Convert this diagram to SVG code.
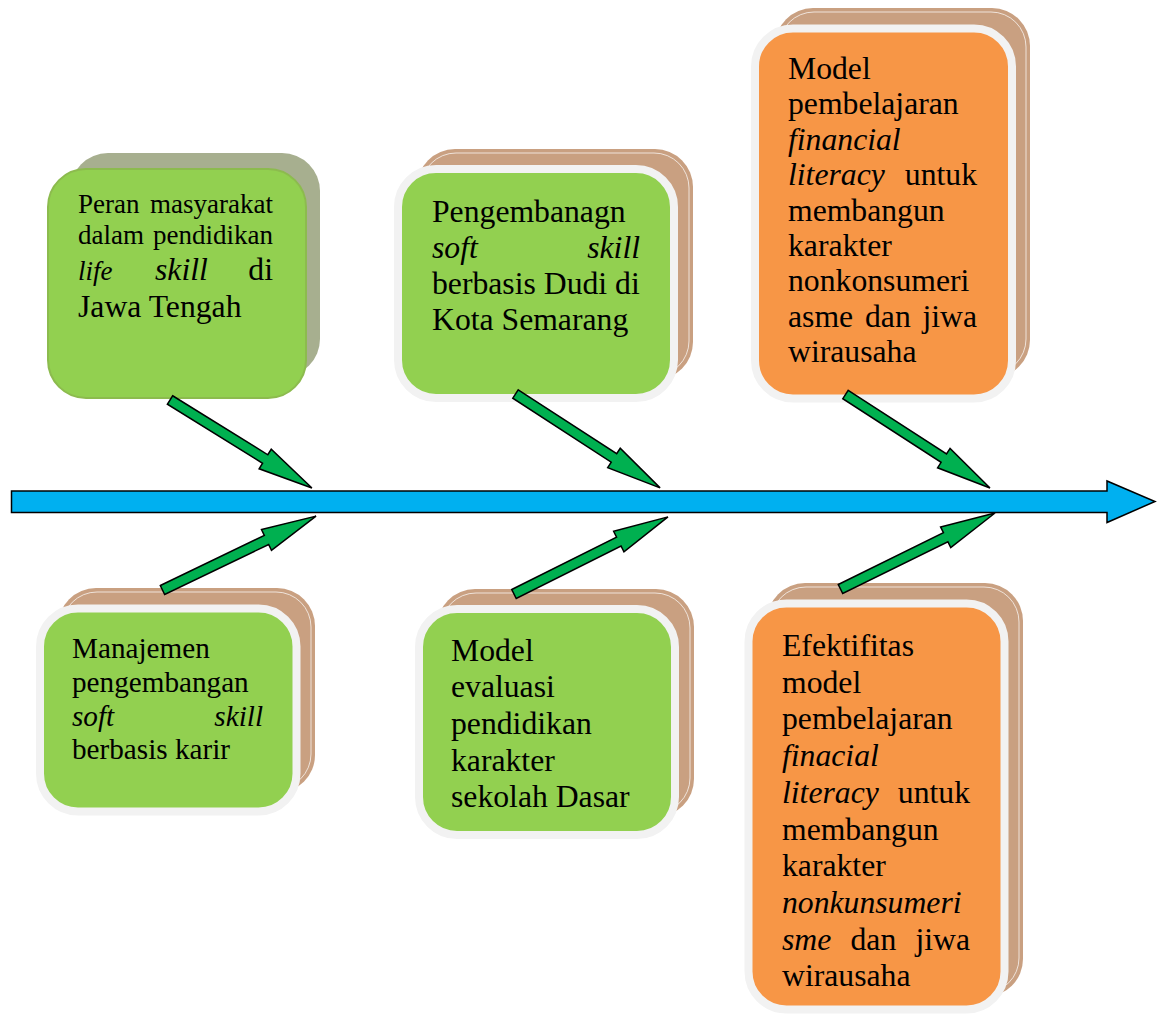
<svg xmlns="http://www.w3.org/2000/svg" width="1157" height="1014" viewBox="0 0 1157 1014">
<style>
.t{font-family:"Liberation Serif","Times New Roman",serif;fill:#000;font-size:31.7px}
.s27{font-size:27px}
.s29{font-size:29.2px}
.i{font-style:italic}
.e{text-anchor:end}
.tan{fill:#C9A081}
.tanline{fill:none;stroke:#FFFFFF;stroke-width:1;opacity:0.7}
.grn{fill:#92D050;stroke:#F2F2F2;stroke-width:8}
.org{fill:#F79646;stroke:#F2F2F2;stroke-width:8}
.arr{fill:#00B050;stroke:#000;stroke-width:1.5;stroke-linejoin:miter}
.spine{fill:#00B0F0;stroke:#000;stroke-width:1.5}
</style>
<rect width="1157" height="1014" fill="#FFFFFF"/>

<g id="node1">
<rect x="70" y="153" width="250" height="224" rx="38" fill="#A7AF8F"/>
<rect x="48" y="169" width="258" height="229" rx="38" fill="#92D050" stroke="#8CBB4E" stroke-width="2"/>
<text class="t s27" x="78" y="213">Peran</text>
<text class="t s27 e" x="273" y="213">masyarakat</text>
<text class="t s27" x="78" y="244">dalam</text>
<text class="t s27 e" x="273" y="244">pendidikan</text>
<text class="t s27 i" x="78" y="280">life</text>
<text class="t i" x="155" y="280">skill</text>
<text class="t e" x="273" y="280">di</text>
<text class="t" x="78" y="316.7">Jawa Tengah</text>
</g>

<g id="node2">
<rect class="tan" x="417" y="149" width="276" height="231" rx="38"/>
<rect class="tanline" x="421" y="153" width="268" height="223" rx="35"/>
<rect class="grn" x="398" y="169" width="276" height="229" rx="38"/>
<text class="t" x="432" y="221.5">Pengembanagn</text>
<text class="t i" x="432" y="257.5">soft</text>
<text class="t i e" x="640" y="257.5">skill</text>
<text class="t" x="432" y="293.5">berbasis Dudi di</text>
<text class="t" x="432" y="329.5">Kota Semarang</text>
</g>

<g id="node3">
<rect class="tan" x="775" y="8" width="255" height="370" rx="38"/>
<rect class="tanline" x="779" y="12" width="247" height="362" rx="35"/>
<rect class="org" x="755" y="28.5" width="257" height="370" rx="38"/>
<text class="t" x="788" y="79">Model</text>
<text class="t" x="788" y="114.4">pembelajaran</text>
<text class="t i" x="788" y="149.8">financial</text>
<text class="t i" x="788" y="185.1">literacy</text>
<text class="t e" x="977" y="185.1">untuk</text>
<text class="t" x="788" y="220.5">membangun</text>
<text class="t" x="788" y="255.9">karakter</text>
<text class="t" x="788" y="291.3">nonkonsumeri</text>
<text class="t" x="788" y="326.6">asme</text>
<text class="t" x="865" y="326.6">dan</text>
<text class="t e" x="977" y="326.6">jiwa</text>
<text class="t" x="788" y="362">wirausaha</text>
</g>

<g id="node4">
<rect class="tan" x="58" y="588" width="257" height="205" rx="38"/>
<rect class="tanline" x="62" y="592" width="249" height="197" rx="35"/>
<rect class="grn" x="40" y="608.5" width="256.5" height="203" rx="38"/>
<text class="t s29" x="72" y="658.3">Manajemen</text>
<text class="t s29" x="72" y="691.9">pengembangan</text>
<text class="t s29 i" x="72" y="725.5">soft</text>
<text class="t s29 i e" x="263" y="725.5">skill</text>
<text class="t s29" x="72" y="759">berbasis karir</text>
</g>

<g id="node5">
<rect class="tan" x="437" y="589" width="257" height="228" rx="38"/>
<rect class="tanline" x="441" y="593" width="249" height="220" rx="35"/>
<rect class="grn" x="419" y="609" width="256" height="226" rx="38"/>
<text class="t" x="451" y="660.7">Model</text>
<text class="t" x="451" y="697.4">evaluasi</text>
<text class="t" x="451" y="734">pendidikan</text>
<text class="t" x="451" y="770.7">karakter</text>
<text class="t" x="451" y="807.4">sekolah Dasar</text>
</g>

<g id="node6">
<rect class="tan" x="767" y="583" width="256" height="414" rx="38"/>
<rect class="tanline" x="771" y="587" width="248" height="406" rx="35"/>
<rect class="org" x="748.5" y="603.5" width="256" height="406" rx="38"/>
<text class="t" x="782" y="656">Efektifitas</text>
<text class="t" x="782" y="692.7">model</text>
<text class="t" x="782" y="729.4">pembelajaran</text>
<text class="t i" x="782" y="766.1">finacial</text>
<text class="t i" x="782" y="802.8">literacy</text>
<text class="t e" x="970" y="802.8">untuk</text>
<text class="t" x="782" y="839.5">membangun</text>
<text class="t" x="782" y="876.2">karakter</text>
<text class="t i" x="782" y="912.9">nonkunsumeri</text>
<text class="t i" x="782" y="949.6">sme</text>
<text class="t" x="850.5" y="949.6">dan</text>
<text class="t e" x="970" y="949.6">jiwa</text>
<text class="t" x="782" y="986.3">wirausaha</text>
</g>

<g id="connectors">
<polygon class="spine" points="11.5,491 1107,491 1107,481 1155,501.5 1107,522.5 1107,512.5 11.5,512.5"/>
<polygon class="arr" transform="translate(170,400) rotate(31.8)" points="0,-5 112,-5 112,-11.5 167,0 112,11.5 112,5 0,5"/>
<polygon class="arr" transform="translate(515.5,394) rotate(33)" points="0,-5 117.4,-5 117.4,-11.5 172.4,0 117.4,11.5 117.4,5 0,5"/>
<polygon class="arr" transform="translate(845.5,394.5) rotate(32.9)" points="0,-5 117.1,-5 117.1,-11.5 172.1,0 117.1,11.5 117.1,5 0,5"/>
<polygon class="arr" transform="translate(162.5,590) rotate(-25.7)" points="0,-5 115.4,-5 115.4,-11.5 170.4,0 115.4,11.5 115.4,5 0,5"/>
<polygon class="arr" transform="translate(514,594) rotate(-26.6)" points="0,-5 117.2,-5 117.2,-11.5 172.2,0 117.2,11.5 117.2,5 0,5"/>
<polygon class="arr" transform="translate(840.5,589) rotate(-26.2)" points="0,-5 117.2,-5 117.2,-11.5 172.2,0 117.2,11.5 117.2,5 0,5"/>
</g>
</svg>
